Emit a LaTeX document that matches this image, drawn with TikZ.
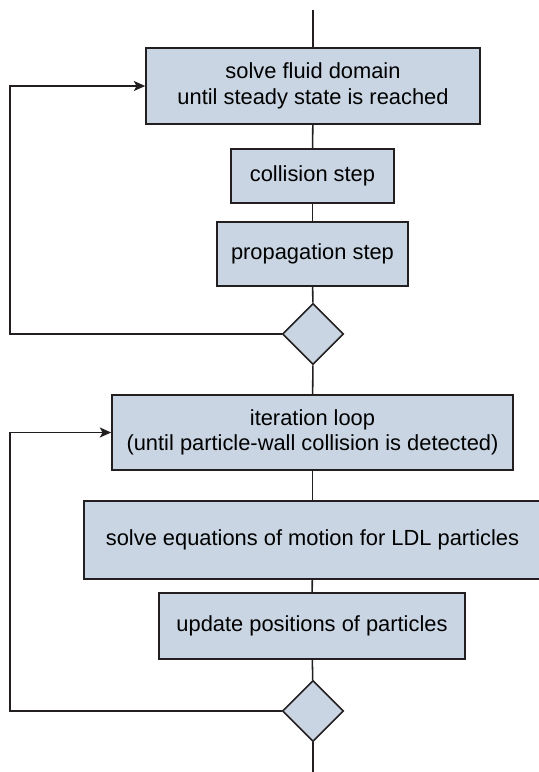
\documentclass[tikz,border=0pt]{standalone}
\usepackage{fontspec}
\setmainfont{Liberation Sans}
\usetikzlibrary{shapes.geometric,arrows.meta}

\tikzset{every picture/.style={line width=0.75pt}}
\tikzset{
  stepbox/.style={draw={rgb,255:red,35;green,31;blue,32},line width=1.2pt,
    fill={rgb,255:red,201;green,213;blue,227},inner sep=0.75pt,align=center,
    font=\fontsize{16.4}{19.2}\selectfont},
  decide/.style={draw={rgb,255:red,35;green,31;blue,32},line width=1.2pt,
    fill={rgb,255:red,201;green,213;blue,227},diamond,inner sep=0pt,
    minimum width=46pt,minimum height=46pt},
  link/.style={draw={rgb,255:red,35;green,31;blue,32},line width=1.15pt},
  back/.style={link,-{Stealth[length=8.5pt,width=7.5pt,inset=2pt]}}
}

\begin{document}
\begin{tikzpicture}[x=0.75pt,y=0.75pt,yscale=-1,xscale=1]
%set diagram frame: width 539, height 772
\useasboundingbox (0,0) rectangle (539,772);

%Fluid part
\node [stepbox,minimum width=250.5pt,minimum height=57pt] (fluid) at (313,86) {solve fluid domain\\until steady state is reached};
\node [stepbox,minimum width=122.25pt,minimum height=40.5pt] (collide) at (312.5,176) {collision step};
\node [stepbox,minimum width=143.25pt,minimum height=48pt] (propagate) at (312.5,254) {propagation step};
\node [decide] (check1) at (313,334) {};

%Particle part
\node [stepbox,minimum width=300.75pt,minimum height=56.25pt] (iterate) at (312.5,432.5) {iteration loop\\(until particle-wall collision is detected)};
\node [stepbox,minimum width=343pt,minimum height=58.5pt] (motion) at (312.5,540) {solve equations of motion for LDL particles};
\node [stepbox,minimum width=229.5pt,minimum height=49.5pt] (update) at (312,626) {update positions of particles};
\node [decide] (check2) at (313,711) {};

\coordinate (start) at (313,10);
\coordinate (finish) at (313,772);
\coordinate (loop1) at (10,334);
\coordinate (loop2) at (10,711);

%Straight Lines
\draw [link] (start) -- (fluid);
\draw [link] (fluid) -- (collide);
\draw [link] (collide) -- (propagate);
\draw [link] (propagate) -- (check1);
\draw [link] (check1) -- (iterate);
\draw [link] (iterate) -- (motion);
\draw [link] (motion) -- (update);
\draw [link] (update) -- (check2);
\draw [link] (check2) -- (finish);

%Loops back
\draw [back] (check1.west) -- (loop1) |- (fluid.west);
\draw [back] (check2.west) -- (loop2) |- (iterate.west);

\end{tikzpicture}
\end{document}
